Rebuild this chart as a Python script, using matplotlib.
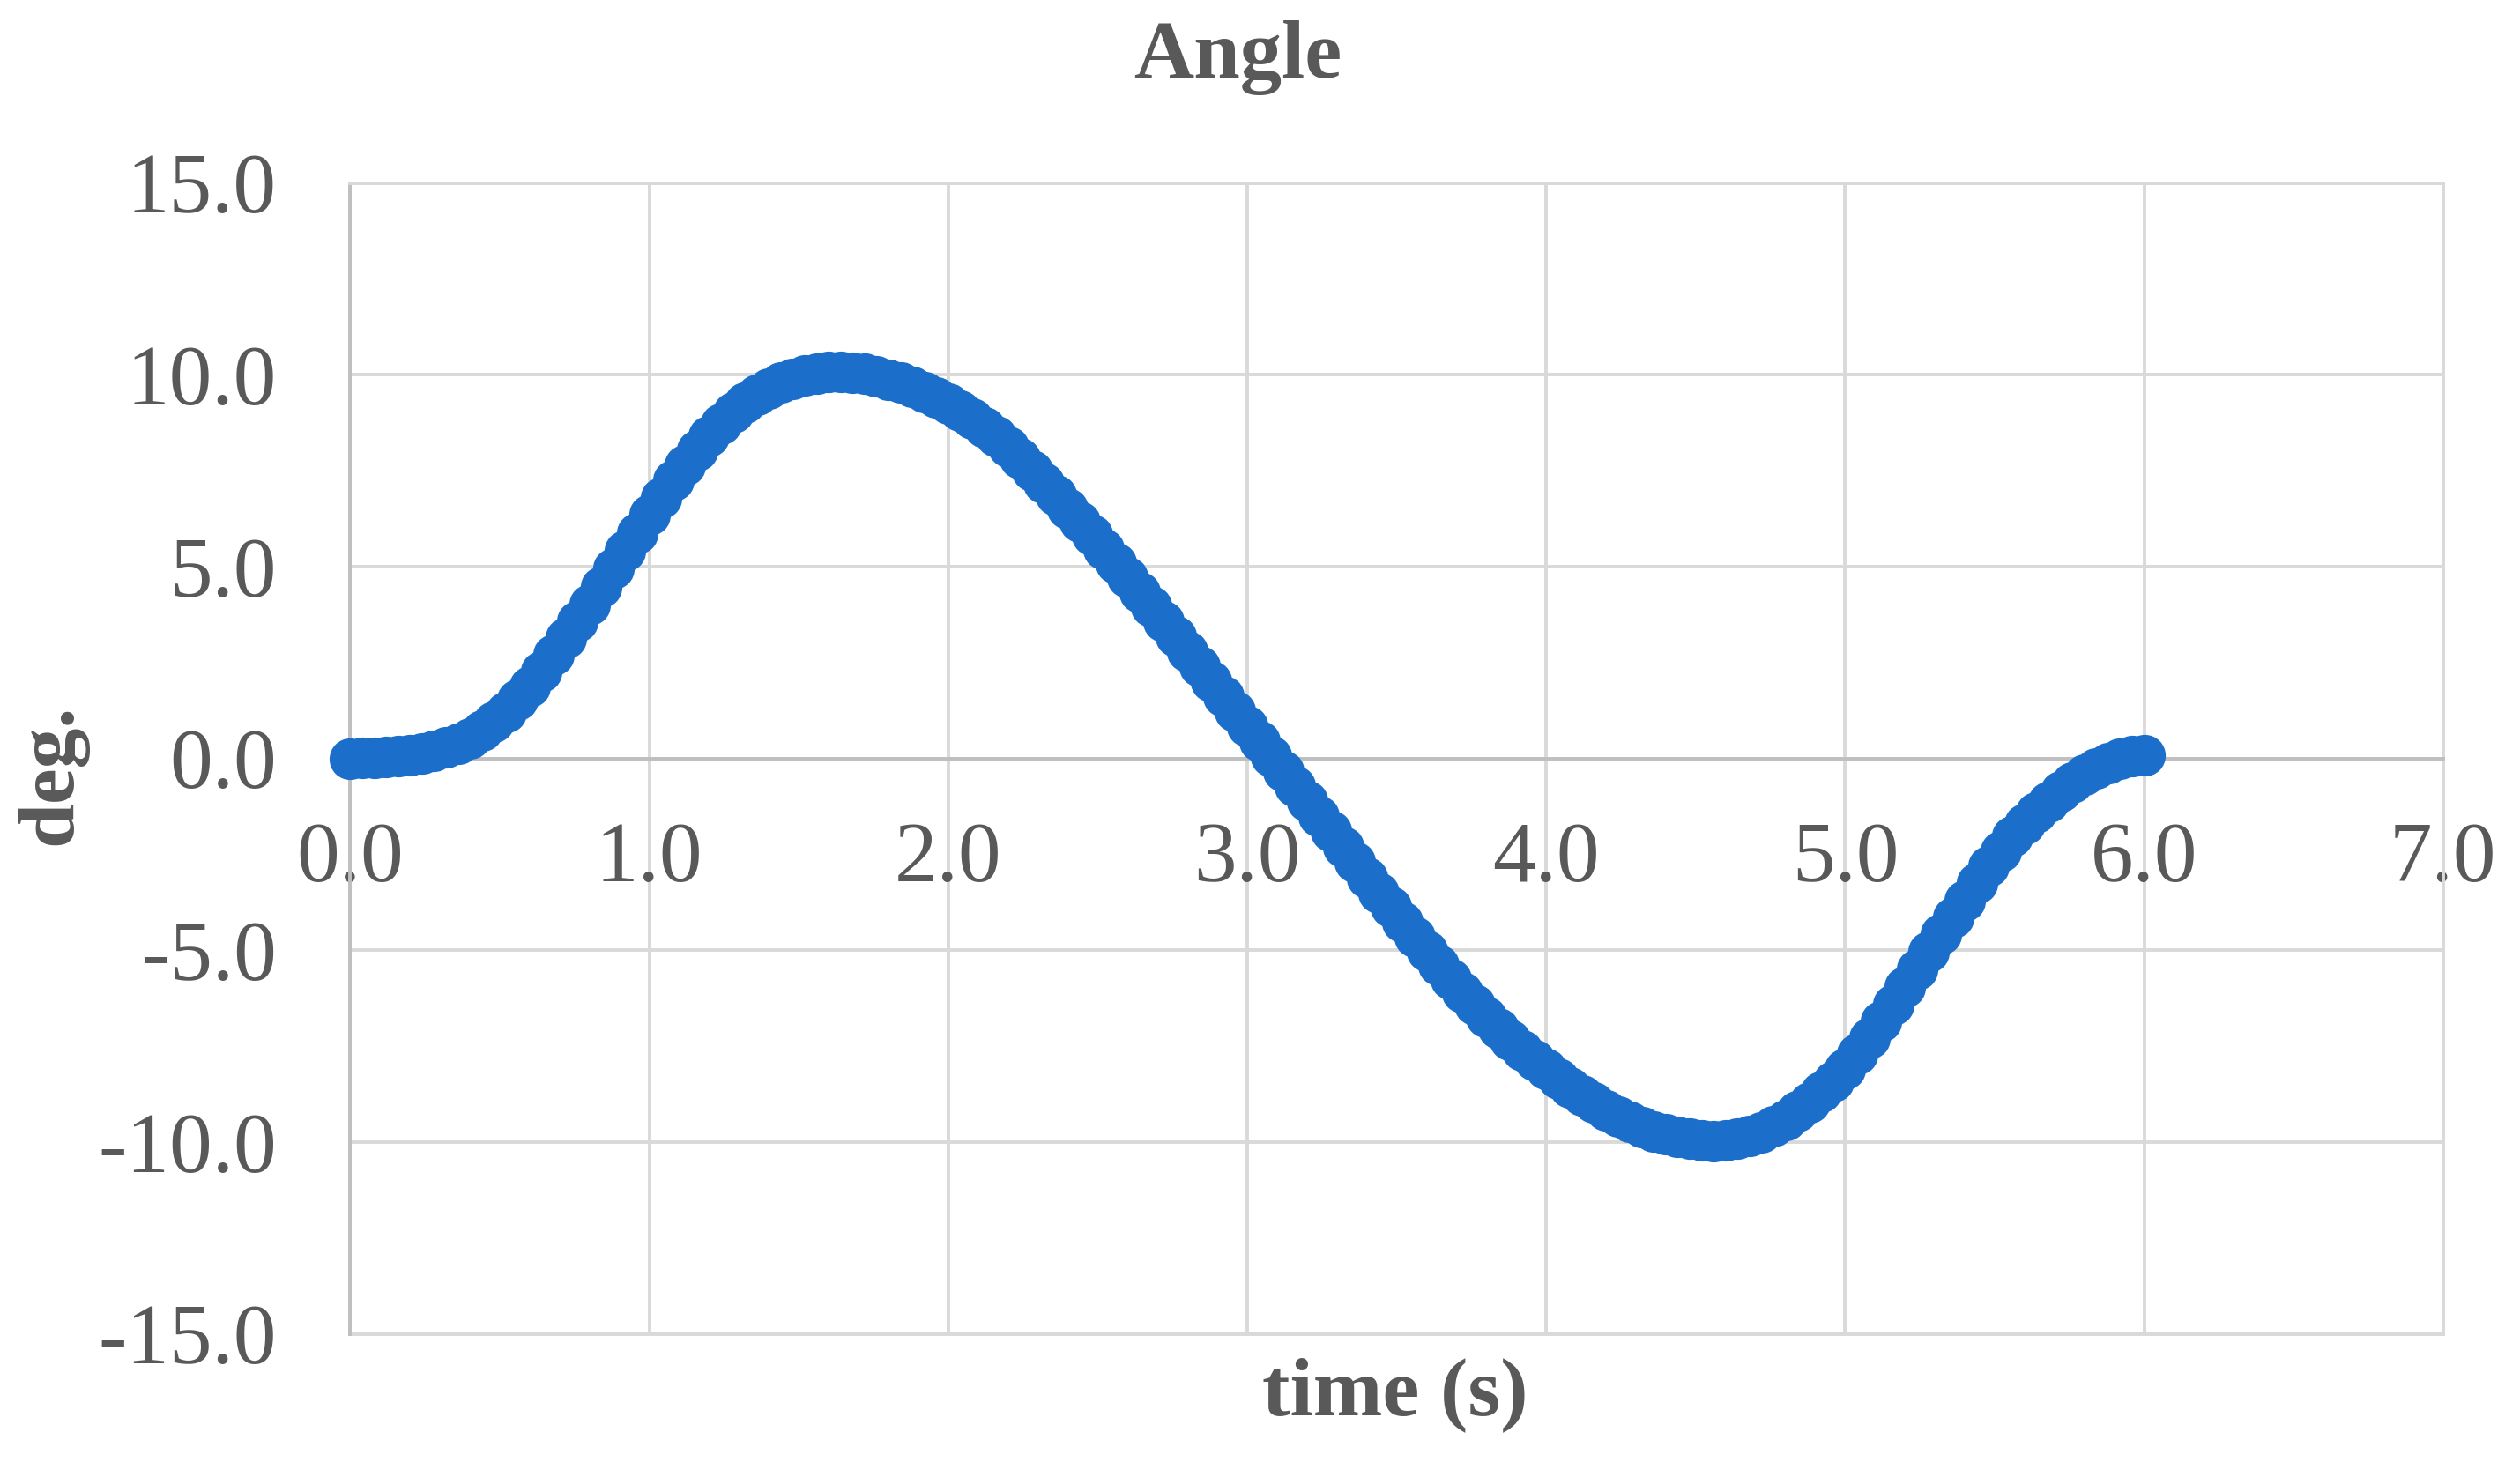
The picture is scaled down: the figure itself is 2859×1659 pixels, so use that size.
import matplotlib
matplotlib.use("Agg")
import matplotlib.pyplot as plt

# time (s), step 0.04, angle (deg.)
time_s = [round(0.04 * k, 2) for k in range(151)]
angle_deg = [
    0.00, 0.01, 0.02, 0.04, 0.05, 0.08, 0.12, 0.19, 0.28, 0.39,
    0.53, 0.72, 0.95, 1.22, 1.53, 1.88, 2.27, 2.70, 3.14, 3.57,
    4.02, 4.48, 4.95, 5.42, 5.88, 6.35, 6.80, 7.24, 7.65, 8.04,
    8.40, 8.72, 9.02, 9.27, 9.48, 9.65, 9.79, 9.90, 9.98, 10.04,
    10.07, 10.08, 10.06, 10.02, 9.96, 9.88, 9.79, 9.68, 9.55, 9.41,
    9.25, 9.06, 8.86, 8.64, 8.39, 8.12, 7.82, 7.51, 7.19, 6.86,
    6.52, 6.17, 5.82, 5.46, 5.09, 4.72, 4.34, 3.96, 3.58, 3.19,
    2.80, 2.41, 2.02, 1.62, 1.24, 0.85, 0.46, 0.06, -0.33, -0.72,
    -1.12, -1.51, -1.90, -2.30, -2.70, -3.10, -3.49, -3.88, -4.27, -4.65,
    -5.02, -5.39, -5.75, -6.09, -6.43, -6.75, -7.05, -7.34, -7.61, -7.86,
    -8.10, -8.34, -8.57, -8.78, -8.98, -9.17, -9.33, -9.48, -9.61, -9.72,
    -9.80, -9.87, -9.92, -9.95, -9.97, -9.96, -9.92, -9.85, -9.74, -9.60,
    -9.42, -9.21, -8.97, -8.70, -8.41, -8.10, -7.71, -7.30, -6.86, -6.41,
    -5.96, -5.50, -5.05, -4.59, -4.14, -3.70, -3.25, -2.82, -2.41, -2.04,
    -1.70, -1.40, -1.13, -0.87, -0.63, -0.42, -0.26, -0.12, -0.02, 0.05,
    0.08,
]

x_ticks = [0, 1, 2, 3, 4, 5, 6, 7]
y_ticks = [-15, -10, -5, 0, 5, 10, 15]

TEXT = "#595959"
GRID = "#D9D9D9"
AXIS = "#BFBFBF"
BLUE = "#1B6FCB"

plt.rcParams["font.family"] = ["Liberation Serif", "DejaVu Serif"]

fig = plt.figure(figsize=(14.295, 8.295), dpi=200)
ax = fig.add_axes([0.139, 0.0877, 0.8305, 0.7871])

ax.set_xlim(0, 7)
ax.set_ylim(-15, 15)
ax.set_xticks(x_ticks)
ax.set_yticks(y_ticks)
ax.set_xticklabels([f"{v:.1f}" for v in x_ticks])
ax.set_yticklabels([f"{v:.1f}" for v in y_ticks])

ax.grid(True, color=GRID, linewidth=1.4, zorder=0)
ax.set_axisbelow(True)

# excel style: value axis at x=0, category axis crossing at y=0
ax.spines["bottom"].set_position(("data", 0))
ax.spines["bottom"].set_color(AXIS)
ax.spines["bottom"].set_linewidth(1.4)
ax.spines["left"].set_color(AXIS)
ax.spines["left"].set_linewidth(1.4)
ax.spines["top"].set_color(GRID)
ax.spines["top"].set_linewidth(1.4)
ax.spines["right"].set_color(GRID)
ax.spines["right"].set_linewidth(1.4)
ax.axhline(-15, color=GRID, linewidth=1.4, clip_on=False, zorder=1)

ax.tick_params(axis="both", length=0, labelsize=35, labelcolor=TEXT)
ax.tick_params(axis="x", pad=26)
ax.tick_params(axis="y", pad=30)

ax.plot(time_s, angle_deg, "o", color=BLUE, ms=17, mew=0, zorder=3, clip_on=False)

fig.text(0.491, 0.947, "Angle", ha="center", va="baseline",
         fontsize=34, fontweight="bold", color=TEXT)
fig.text(0.5536, 0.0326, "time (s)", ha="center", va="baseline",
         fontsize=34, fontweight="bold", color=TEXT)
fig.text(0.0203, 0.47, "deg.", ha="center", va="center", rotation=90,
         fontsize=33, fontweight="bold", color=TEXT)

fig.savefig("out.png", dpi=200, facecolor="white")
